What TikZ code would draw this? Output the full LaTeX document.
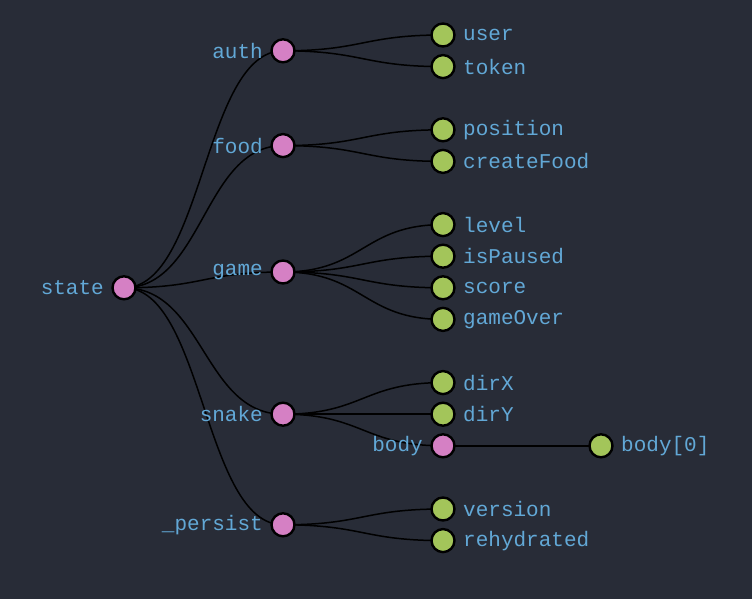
\documentclass[tikz,border=0pt]{standalone}
\usepackage{fontspec}
\setmonofont{Liberation Mono}
\usetikzlibrary{calc}
\definecolor{bgc}{HTML}{282C37}
\definecolor{pinkc}{HTML}{D580C4}
\definecolor{greenc}{HTML}{A3C55A}
\definecolor{txtc}{HTML}{62A8D6}
\pgfdeclarelayer{bg}
\pgfdeclarelayer{edges}
\pgfsetlayers{bg,edges,main}
\tikzset{
  inner/.style={circle,draw=black,line width=2.4pt,fill=pinkc,minimum size=23pt,inner sep=0pt},
  leaf/.style={circle,draw=black,line width=2.4pt,fill=greenc,minimum size=23pt,inner sep=0pt},
  lbl/.style={text=txtc,font=\ttfamily\fontsize{21}{23}\selectfont,inner sep=0pt},
  edge/.style={draw=black,line width=1.5pt},
}
\newcommand\lnk[2]{\draw[edge] let \p1=(#1.center), \p2=(#2.center) in (\p1) .. controls ({(\x1+\x2)/2},\y1) and ({(\x1+\x2)/2},\y2) .. (\p2);}
\newcommand\leafnode[4]{\node[leaf] (#1) at (443,#2) {}; \node[lbl,anchor=west] (#1-l) at ($(#1)+(20,0)$) {#3#4};}
\begin{document}
\begin{tikzpicture}[x=1pt,y=-1pt]
\begin{pgfonlayer}{bg}
\fill[bgc] (0,0) rectangle (752,599);
\end{pgfonlayer}
\useasboundingbox (0,0) rectangle (752,599);
% internal nodes
\node[inner] (state) at (124,287.8) {};
\node[inner] (auth) at (283,50.8) {};
\node[inner] (food) at (283,145.6) {};
\node[inner] (game) at (283,272) {};
\node[inner] (snake) at (283,414.2) {};
\node[inner] (persist) at (283,524.8) {};
\node[inner] (body) at (443,445.8) {};
\node[leaf] (body0) at (601,445.8) {};
\foreach \n/\t in {state/state,auth/auth,food/food,game/game,snake/snake,persist/\_persist,body/body}{
  \node[lbl,anchor=east] (\n-l) at ($(\n)+(-20,0)$) {\t};
}
\node[lbl,anchor=west] (body0-l) at ($(body0)+(20,0)$) {body[0]};
% leaves
\leafnode{user}{35}{user}{}
\leafnode{token}{66.6}{token}{}
\leafnode{position}{129.8}{position}{}
\leafnode{createFood}{161.4}{createFood}{}
\leafnode{level}{224.6}{level}{}
\leafnode{isPaused}{256.2}{isPaused}{}
\leafnode{score}{287.8}{score}{}
\leafnode{gameOver}{319.4}{gameOver}{}
\leafnode{dirX}{382.6}{dirX}{}
\leafnode{dirY}{414.2}{dirY}{}
\leafnode{version}{509}{version}{}
\leafnode{rehydrated}{540.6}{rehydrated}{}
\begin{pgfonlayer}{edges}
\lnk{state}{auth}
\lnk{state}{food}
\lnk{state}{game}
\lnk{state}{snake}
\lnk{state}{persist}
\lnk{auth}{user}
\lnk{auth}{token}
\lnk{food}{position}
\lnk{food}{createFood}
\lnk{game}{level}
\lnk{game}{isPaused}
\lnk{game}{score}
\lnk{game}{gameOver}
\lnk{snake}{dirX}
\lnk{snake}{dirY}
\lnk{snake}{body}
\lnk{body}{body0}
\lnk{persist}{version}
\lnk{persist}{rehydrated}
\end{pgfonlayer}
\end{tikzpicture}
\end{document}
